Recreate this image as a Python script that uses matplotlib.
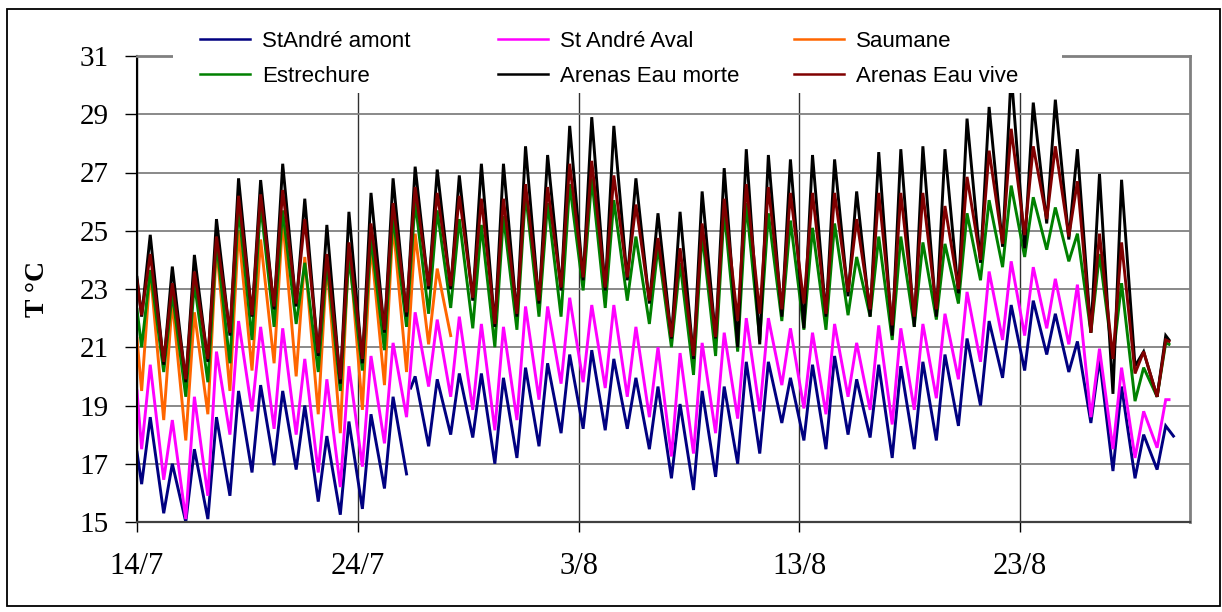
import numpy as np
import matplotlib
matplotlib.use("Agg")
import matplotlib.pyplot as plt
from matplotlib.lines import Line2D
from matplotlib.patches import Rectangle

# ---------------- data ----------------
tick_days = [0, 10, 20, 30, 40]
tick_labels = ["14/7", "24/7", "3/8", "13/8", "23/8"]
y_ticks = [15, 17, 19, 21, 23, 25, 27, 29, 31]

series_names = ["StAndré amont", "St André Aval", "Saumane",
                "Estrechure", "Arenas Eau morte", "Arenas Eau vive"]
series_colors = ["#000080", "#FF00FF", "#FF6600", "#008000", "#000000", "#800000"]

# time of day (fraction) of the daily minimum and maximum
TROUGH_FRAC = 0.21
PEAK_FRAC = 0.60

# StAndré amont (navy)
amont_start = 17.4
amont_trough = [16.3, 15.3, 15.0, 15.1, 15.9, 16.7, 16.95, 16.8, 15.7, 15.25,
                15.45, 16.15, 16.65, 17.6, 18.0, 17.9, 17.0, 17.2, 17.6, 18.05,
                18.2, 18.15, 18.2, 17.5, 16.5, 16.1, 16.55, 17.0, 17.35, 18.4,
                17.8, 17.5, 18.0, 17.9, 17.2, 17.5, 17.8, 18.3, 19.0, 19.95,
                20.2, 20.75, 20.15, 18.4, 16.75, 16.5, 16.8]
amont_peak = [18.6, 17.0, 17.5, 18.6, 19.5, 19.7, 19.5, 19.0, 17.95, 18.45,
              18.7, 19.3, 20.0, 19.9, 20.1, 20.1, 19.95, 20.3, 20.45, 20.75,
              20.9, 20.6, 19.95, 19.65, 19.05, 19.5, 19.65, 20.5, 20.5, 19.95,
              20.4, 20.7, 19.9, 20.4, 20.35, 20.5, 20.75, 21.3, 21.9, 22.45,
              22.6, 22.15, 21.2, 20.6, 19.65, 18.0, 18.3]
amont_gap_day = 12.25      # record interrupted
amont_restart_day = 12.4
amont_restart = 19.6
amont_end_day = 46.95
amont_end = 17.95

# St André Aval (magenta)
aval_start = 19.5
aval_trough = [17.5, 16.45, 15.1, 15.9, 18.0, 18.8, 18.2, 18.0, 16.7, 16.2,
               16.9, 17.7, 18.6, 19.65, 19.3, 18.85, 18.15, 18.5, 19.2, 19.75,
               19.8, 19.6, 19.3, 18.6, 17.25, 17.35, 18.05, 18.55, 18.8, 19.7,
               18.9, 18.7, 19.3, 18.85, 18.35, 18.85, 19.25, 19.9, 20.5, 21.25,
               21.4, 21.65, 21.1, 18.6, 17.5, 17.2, 17.55]
aval_peak = [20.4, 18.5, 19.3, 20.85, 21.9, 21.7, 21.65, 20.6, 19.9, 20.35,
             20.7, 21.15, 22.2, 21.95, 22.05, 21.8, 21.7, 22.4, 22.4, 22.7,
             22.45, 22.45, 21.7, 21.0, 20.8, 21.15, 21.5, 22.0, 22.0, 21.65,
             21.5, 21.8, 21.15, 21.75, 21.65, 21.8, 22.15, 22.9, 23.6, 23.95,
             23.75, 23.35, 23.15, 20.95, 20.3, 18.8, 19.2]
aval_end_day = 46.75
aval_end = 19.2

# Saumane (orange)
saumane_start = 21.3
saumane_trough = [19.5, 18.5, 17.8, 18.7, 19.5, 20.2, 20.45, 20.0, 18.7, 18.05,
                  18.85, 19.7, 20.15, 21.1, 21.4]
saumane_peak = [23.65, 22.6, 22.2, 24.45, 25.0, 24.7, 25.4, 24.1, 23.9, 24.55,
                24.55, 25.25, 24.9, 23.7]

# Estrechure (green)
estre_start = 22.3
estre_trough = [21.0, 20.15, 19.3, 19.8, 20.45, 21.25, 21.7, 21.8, 20.15, 19.5,
                20.2, 20.9, 21.7, 22.15, 22.35, 21.65, 21.0, 21.6, 22.05, 22.05,
                22.95, 22.35, 22.6, 21.8, 21.0, 20.05, 20.7, 20.85, 21.25, 21.9,
                21.6, 21.6, 22.1, 22.05, 21.25, 21.7, 21.95, 22.5, 23.3, 23.75,
                24.1, 24.35, 23.95, 21.5, 20.6, 19.15, 19.3]
estre_peak = [23.65, 22.85, 23.2, 24.6, 25.8, 25.9, 25.7, 23.9, 23.9, 24.1,
              24.75, 25.5, 26.0, 25.7, 25.4, 25.2, 25.5, 26.3, 25.95, 26.6,
              26.8, 26.05, 24.8, 24.45, 23.9, 24.9, 25.7, 25.95, 25.6, 25.35,
              25.1, 25.25, 24.1, 24.8, 24.8, 24.6, 24.55, 25.6, 26.05, 26.55,
              26.15, 25.8, 24.9, 24.2, 23.2, 20.3, 21.15]
estre_end_day = 46.75
estre_end = 21.1

# Arenas Eau morte (black)
morte_start = 23.4
morte_trough = [22.05, 20.4, 19.8, 20.5, 21.4, 22.05, 22.3, 22.4, 20.7, 19.75,
                20.45, 21.5, 22.05, 23.0, 23.0, 22.6, 21.7, 22.05, 22.5, 22.95,
                23.3, 22.95, 23.3, 22.5, 21.3, 20.6, 21.3, 21.0, 21.1, 22.05,
                21.65, 22.05, 22.75, 22.05, 21.4, 21.7, 22.05, 22.85, 23.9, 24.45,
                24.4, 25.25, 24.7, 21.5, 19.4, 20.35, 19.3]
morte_peak = [24.86, 23.77, 24.17, 25.4, 26.8, 26.74, 27.3, 26.1, 25.2, 25.65,
              26.3, 26.8, 27.2, 27.1, 26.9, 27.3, 27.3, 27.9, 27.6, 28.6,
              28.9, 28.6, 26.8, 25.6, 25.65, 26.35, 27.15, 27.8, 27.6, 27.45,
              27.6, 27.45, 26.35, 27.7, 27.8, 27.9, 27.8, 28.85, 29.25, 30.4,
              29.4, 29.5, 27.8, 26.95, 26.75, 20.85, 21.4]
morte_end_day = 46.75
morte_end = 21.25

# Arenas Eau vive (dark red)
vive_start = 23.3
vive_trough = [22.1, 20.5, 19.9, 20.6, 21.5, 22.1, 22.4, 22.5, 20.8, 19.9,
               20.6, 21.6, 22.2, 23.1, 23.1, 22.7, 21.8, 22.15, 22.6, 23.05,
               23.4, 23.05, 23.4, 22.6, 21.35, 20.7, 21.35, 21.9, 22.15, 22.3,
               22.5, 22.15, 22.9, 22.3, 21.75, 22.05, 22.3, 23.0, 24.0, 24.55,
               24.85, 25.4, 24.8, 21.5, 20.6, 20.1, 19.3]
vive_peak = [24.2, 23.2, 23.6, 24.8, 26.2, 26.25, 26.4, 25.4, 24.2, 24.6,
             25.25, 25.95, 26.5, 26.3, 26.2, 26.1, 26.1, 26.6, 26.5, 27.3,
             27.4, 26.9, 25.9, 24.75, 24.4, 25.25, 26.1, 26.6, 26.5, 26.3,
             26.3, 26.3, 25.4, 26.3, 26.3, 26.3, 25.85, 26.85, 27.75, 28.5,
             27.9, 27.9, 26.7, 24.9, 24.6, 20.85, 21.25]
vive_end_day = 46.75
vive_end = 21.2


def build(start, troughs, peaks, end_day=None, end=None):
    xs, ys = [0.0], [start]
    for k in range(len(troughs)):
        xs.append(k + TROUGH_FRAC)
        ys.append(troughs[k])
        if k < len(peaks):
            xs.append(k + PEAK_FRAC)
            ys.append(peaks[k])
    if end is not None:
        xs.append(end_day)
        ys.append(end)
    return np.array(xs), np.array(ys)


# navy series with its interruption
ax_x, ax_y = build(amont_start, amont_trough, amont_peak, amont_end_day, amont_end)
cut = np.searchsorted(ax_x, amont_gap_day)
ax_x = np.concatenate([ax_x[:cut], [amont_gap_day, amont_restart_day], ax_x[cut:]])
ax_y = np.concatenate([ax_y[:cut], [np.nan, amont_restart], ax_y[cut:]])

curves = [
    (ax_x, ax_y),
    build(aval_start, aval_trough, aval_peak, aval_end_day, aval_end),
    build(saumane_start, saumane_trough, saumane_peak),
    build(estre_start, estre_trough, estre_peak, estre_end_day, estre_end),
    build(morte_start, morte_trough, morte_peak, morte_end_day, morte_end),
    build(vive_start, vive_trough, vive_peak, vive_end_day, vive_end),
]

# ---------------- figure ----------------
W, H = 1222, 612
fig = plt.figure(figsize=(W / 100, H / 100), dpi=100)
L, R, T, B = 137, 1190, 56, 522
ax = fig.add_axes([L / W, 1 - B / H, (R - L) / W, (B - T) / H])

for (x, y), c in zip(curves, series_colors):
    ax.plot(x, y, color=c, lw=2.1, solid_joinstyle="miter")

ax.set_xlim(0, 47.7)
ax.set_ylim(15, 31)
ax.set_yticks(y_ticks)
ax.set_yticklabels([str(v) for v in y_ticks])
ax.set_xticks(tick_days)
ax.set_xticklabels(tick_labels)

serif = "Liberation Serif"
for lab in ax.get_xticklabels() + ax.get_yticklabels():
    lab.set_fontfamily(serif)
ax.tick_params(axis="y", direction="out", length=8.6, width=1, pad=12,
               labelsize=21, colors="black")
ax.tick_params(axis="x", direction="out", length=7.5, width=1, pad=14,
               labelsize=22, colors="black")

ax.set_axisbelow(True)
ax.yaxis.grid(True, color="#808080", lw=1.3)
ax.xaxis.grid(True, color="#303030", lw=1.0)

ax.spines["left"].set_color("black")
ax.spines["left"].set_linewidth(1.5)
ax.spines["bottom"].set_color("#404040")
ax.spines["bottom"].set_linewidth(1.6)
for s in ("top", "right"):
    ax.spines[s].set_color("#808080")
    ax.spines[s].set_linewidth(2)

ax.set_ylabel("T °C", fontfamily=serif, fontsize=20, fontweight="bold",
              rotation=90, va="center", ha="center")
ax.yaxis.set_label_coords((37 - L) / (R - L), 0.5)

# white area behind the legend (covers the plot top)
fig.patches.append(Rectangle((173 / W, 1 - 93 / H), (1062 - 173) / W, 75 / H,
                             transform=fig.transFigure, facecolor="white",
                             edgecolor="none", zorder=2))

fs = 16
fs_px = fs * 100 / 72
handles = [Line2D([], [], color=c, lw=1.8) for c in series_colors]
col_x = [200, 498, 794]
order = [(0, 3), (1, 4), (2, 5)]
for cx, (i, j) in zip(col_x, order):
    fig.legend([handles[i], handles[j]], [series_names[i], series_names[j]],
               loc="upper left", bbox_to_anchor=(cx / W, 1 - 31 / H),
               frameon=False, borderpad=0, borderaxespad=0,
               handlelength=50 / fs_px, handletextpad=12 / fs_px,
               labelspacing=0.62,
               prop={"family": "Liberation Sans", "size": fs})

# outer border of the chart
fig.patches.append(Rectangle((7 / W, 1 - 606 / H), (1220 - 7) / W, (606 - 9) / H,
                             transform=fig.transFigure, fill=False,
                             edgecolor="black", lw=1.3, zorder=10))

fig.savefig("out.png", dpi=100)
